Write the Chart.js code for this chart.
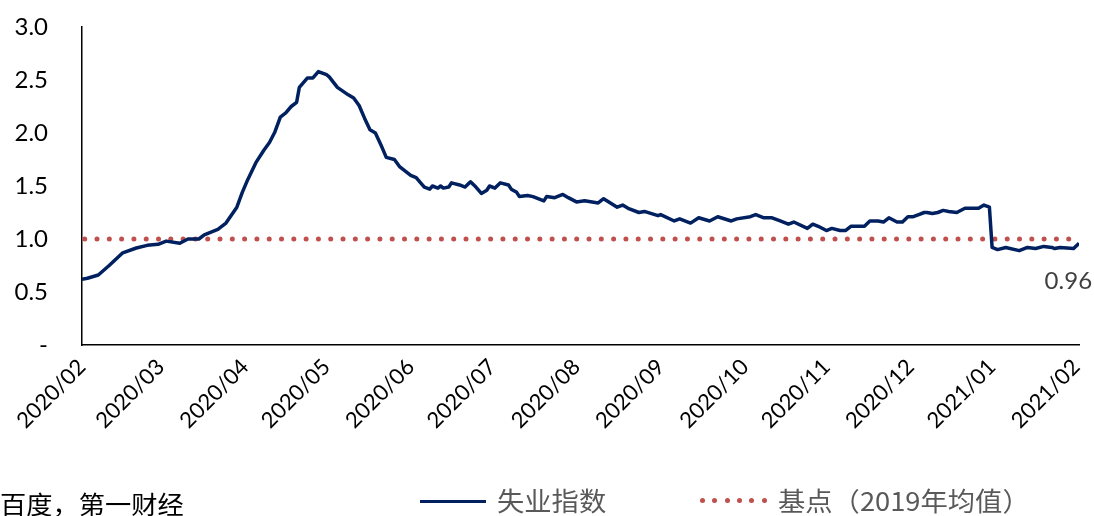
<!doctype html>
<html>
<head>
<meta charset="utf-8">
<title>失业指数</title>
<style>
  body { margin: 0; background: #fff; }
  #wrap { position: relative; width: 1094px; height: 516px; overflow: hidden; }
  #chart { position: absolute; left: 0; top: 0; }
  .note { position: absolute; font-family: "Noto Sans CJK SC", sans-serif; white-space: nowrap; line-height: 1; }
  #source { left: 0; top: 491px; font-size: 25px; color: #000; transform: scaleX(1.05); transform-origin: left; }
  .leg { top: 487px; font-size: 26px; color: #595959; transform: scaleX(1.05); transform-origin: left; }
  .swatch { position: absolute; }
</style>
</head>
<body>
<div id="wrap">
  <canvas id="chart" width="1104" height="516"></canvas>
  <div class="note" id="source">百度，第一财经</div>
  <div class="swatch" style="left:420px; top:500px; width:66px; height:3px; background:#002060;"></div>
  <div class="note leg" style="left:497px;">失业指数</div>
  <div class="swatch" id="dots" style="left:700px; top:497px; width:72px; height:8px;"></div>
  <div class="note leg" style="left:778px;">基点（2019年均值）</div>
</div>

<script src="https://cdn.jsdelivr.net/npm/chart.js"></script>
<script>

	// days counted from 2020/02/01
	const monthDays = [0, 29, 60, 90, 121, 151, 182, 213, 244, 274, 305, 335, 366]
	const monthLabels = ['2020/02', '2020/03', '2020/04', '2020/05', '2020/06', '2020/07', '2020/08',
		'2020/09', '2020/10', '2020/11', '2020/12', '2021/01', '2021/02']
	const yTickLabels = ['-', '0.5', '1.0', '1.5', '2.0', '2.5', '3.0']

	const indexDays = [0, 2, 6, 10, 15, 20, 24, 28, 31, 36, 39, 43, 45, 50, 53, 57, 59, 61, 64, 67,
		69, 71, 73, 75, 77, 79, 80, 83, 85, 87, 90, 91, 94, 98, 100, 102, 104, 106, 108, 110,
		112, 115, 117, 121, 123, 126, 128, 129, 131, 132, 133, 135, 136, 139, 141, 143, 145, 147, 149, 150,
		152, 154, 157, 158, 160, 161, 164, 166, 170, 171, 174, 177, 179, 182, 185, 190, 192, 197, 199, 201,
		205, 207, 212, 213, 218, 220, 224, 227, 231, 234, 239, 241, 246, 248, 251, 254, 257, 260, 262, 267,
		269, 271, 274, 276, 279, 281, 283, 288, 290, 293, 295, 297, 300, 302, 304, 306, 308, 310, 311, 313,
		315, 317, 319, 322, 325, 330, 332, 334, 335, 337, 340, 345, 348, 351, 354, 357, 358, 360, 365, 367]
	const indexValues = [0.62, 0.63, 0.66, 0.75, 0.87, 0.915, 0.94, 0.95, 0.98, 0.96, 1.0, 1.0, 1.04, 1.09, 1.15, 1.30, 1.44, 1.56, 1.72, 1.84,
		1.91, 2.01, 2.15, 2.19, 2.25, 2.29, 2.43, 2.52, 2.52, 2.58, 2.55, 2.53, 2.43, 2.36, 2.33, 2.26, 2.14, 2.03, 2.0, 1.89,
		1.77, 1.75, 1.68, 1.60, 1.58, 1.49, 1.47, 1.50, 1.48, 1.50, 1.48, 1.49, 1.53, 1.51, 1.49, 1.54, 1.49, 1.43, 1.46, 1.50,
		1.48, 1.53, 1.51, 1.47, 1.44, 1.40, 1.41, 1.40, 1.36, 1.40, 1.39, 1.42, 1.39, 1.35, 1.36, 1.34, 1.38, 1.30, 1.32, 1.29,
		1.25, 1.26, 1.22, 1.23, 1.17, 1.19, 1.15, 1.20, 1.17, 1.21, 1.17, 1.19, 1.21, 1.23, 1.20, 1.20, 1.17, 1.14, 1.16, 1.10,
		1.14, 1.12, 1.08, 1.10, 1.08, 1.08, 1.12, 1.12, 1.17, 1.17, 1.16, 1.20, 1.16, 1.16, 1.21, 1.21, 1.23, 1.25, 1.25, 1.24,
		1.25, 1.27, 1.26, 1.25, 1.29, 1.29, 1.32, 1.30, 0.92, 0.90, 0.92, 0.89, 0.92, 0.91, 0.93, 0.92, 0.91, 0.92, 0.91, 0.96]

	const baseDays = [1, 365]
	const baseValues = [1.0, 1.0]

	const NAVY = '#002060'
	const RED = '#C0504D'

	// legend dots, same style as the base line
	const dots = document.getElementById('dots')
	for (let i = 0; i < 6; i++) {
		const d = document.createElement('div')
		d.style.cssText = 'position:absolute;top:1px;width:5px;height:5px;border-radius:50%;background:' + RED + ';left:' + (i * 12.3) + 'px'
		dots.appendChild(d)
	}

	const lastLabel = {
		id: 'lastLabel',
		afterDatasetsDraw(chart) {
			const meta = chart.getDatasetMeta(0)
			const pt = meta.data[meta.data.length - 1]
			const ctx = chart.ctx
			ctx.save()
			ctx.font = '24px Lato'
			ctx.fillStyle = '#404040'
			ctx.textAlign = 'right'
			ctx.textBaseline = 'middle'
			ctx.fillText(indexValues[indexValues.length - 1].toFixed(2), pt.x + 13, pt.y + 38)
			ctx.restore()
		}
	}

	new Chart(document.getElementById('chart'), {
		type: 'line',
		data: {
			datasets: [{
				label: '失业指数',
				data: indexDays.map((d, i) => ({ x: d, y: indexValues[i] })),
				borderColor: NAVY,
				borderWidth: 3.5,
				borderJoinStyle: 'round',
				pointRadius: 0,
				tension: 0,
			}, {
				label: '基点（2019年均值）',
				data: baseDays.map((d, i) => ({ x: d, y: baseValues[i] })),
				borderColor: RED,
				borderWidth: 5,
				borderDash: [0, 12.3],
				borderCapStyle: 'round',
				pointRadius: 0,
			}]
		},
		options: {
			responsive: false,
			animation: false,
			layout: { padding: { top: 27, right: 0, left: 0, bottom: 0 } },
			plugins: { legend: { display: false }, tooltip: { enabled: false } },
			scales: {
				x: {
					type: 'linear',
					min: 0,
					max: 367,
					afterBuildTicks: scale => { scale.ticks = monthDays.map(v => ({ value: v })) },
					afterFit: scale => { scale.height = 171 },
					grid: { display: false, drawTicks: false },
					border: { display: true, color: '#000', width: 1.5 },
					ticks: {
						autoSkip: false,
						maxRotation: 45,
						minRotation: 45,
						padding: 9,
						color: '#000',
						font: { family: 'Lato', size: 22 },
						callback: (v, i) => monthLabels[i],
					},
				},
				y: {
					min: 0,
					max: 3,
					afterBuildTicks: scale => { scale.ticks = yTickLabels.map((t, i) => ({ value: i * 0.5 })) },
					afterFit: scale => { scale.width = 82 },
					grid: { display: false, drawTicks: true, tickLength: 30 },
					border: { display: true, color: '#000', width: 1.5 },
					ticks: {
						padding: 4,
						color: '#000',
						font: { family: 'Lato', size: 24 },
						callback: (v, i) => yTickLabels[i],
					},
				},
			},
		},
		plugins: [lastLabel],
	})

</script>
</body>
</html>
